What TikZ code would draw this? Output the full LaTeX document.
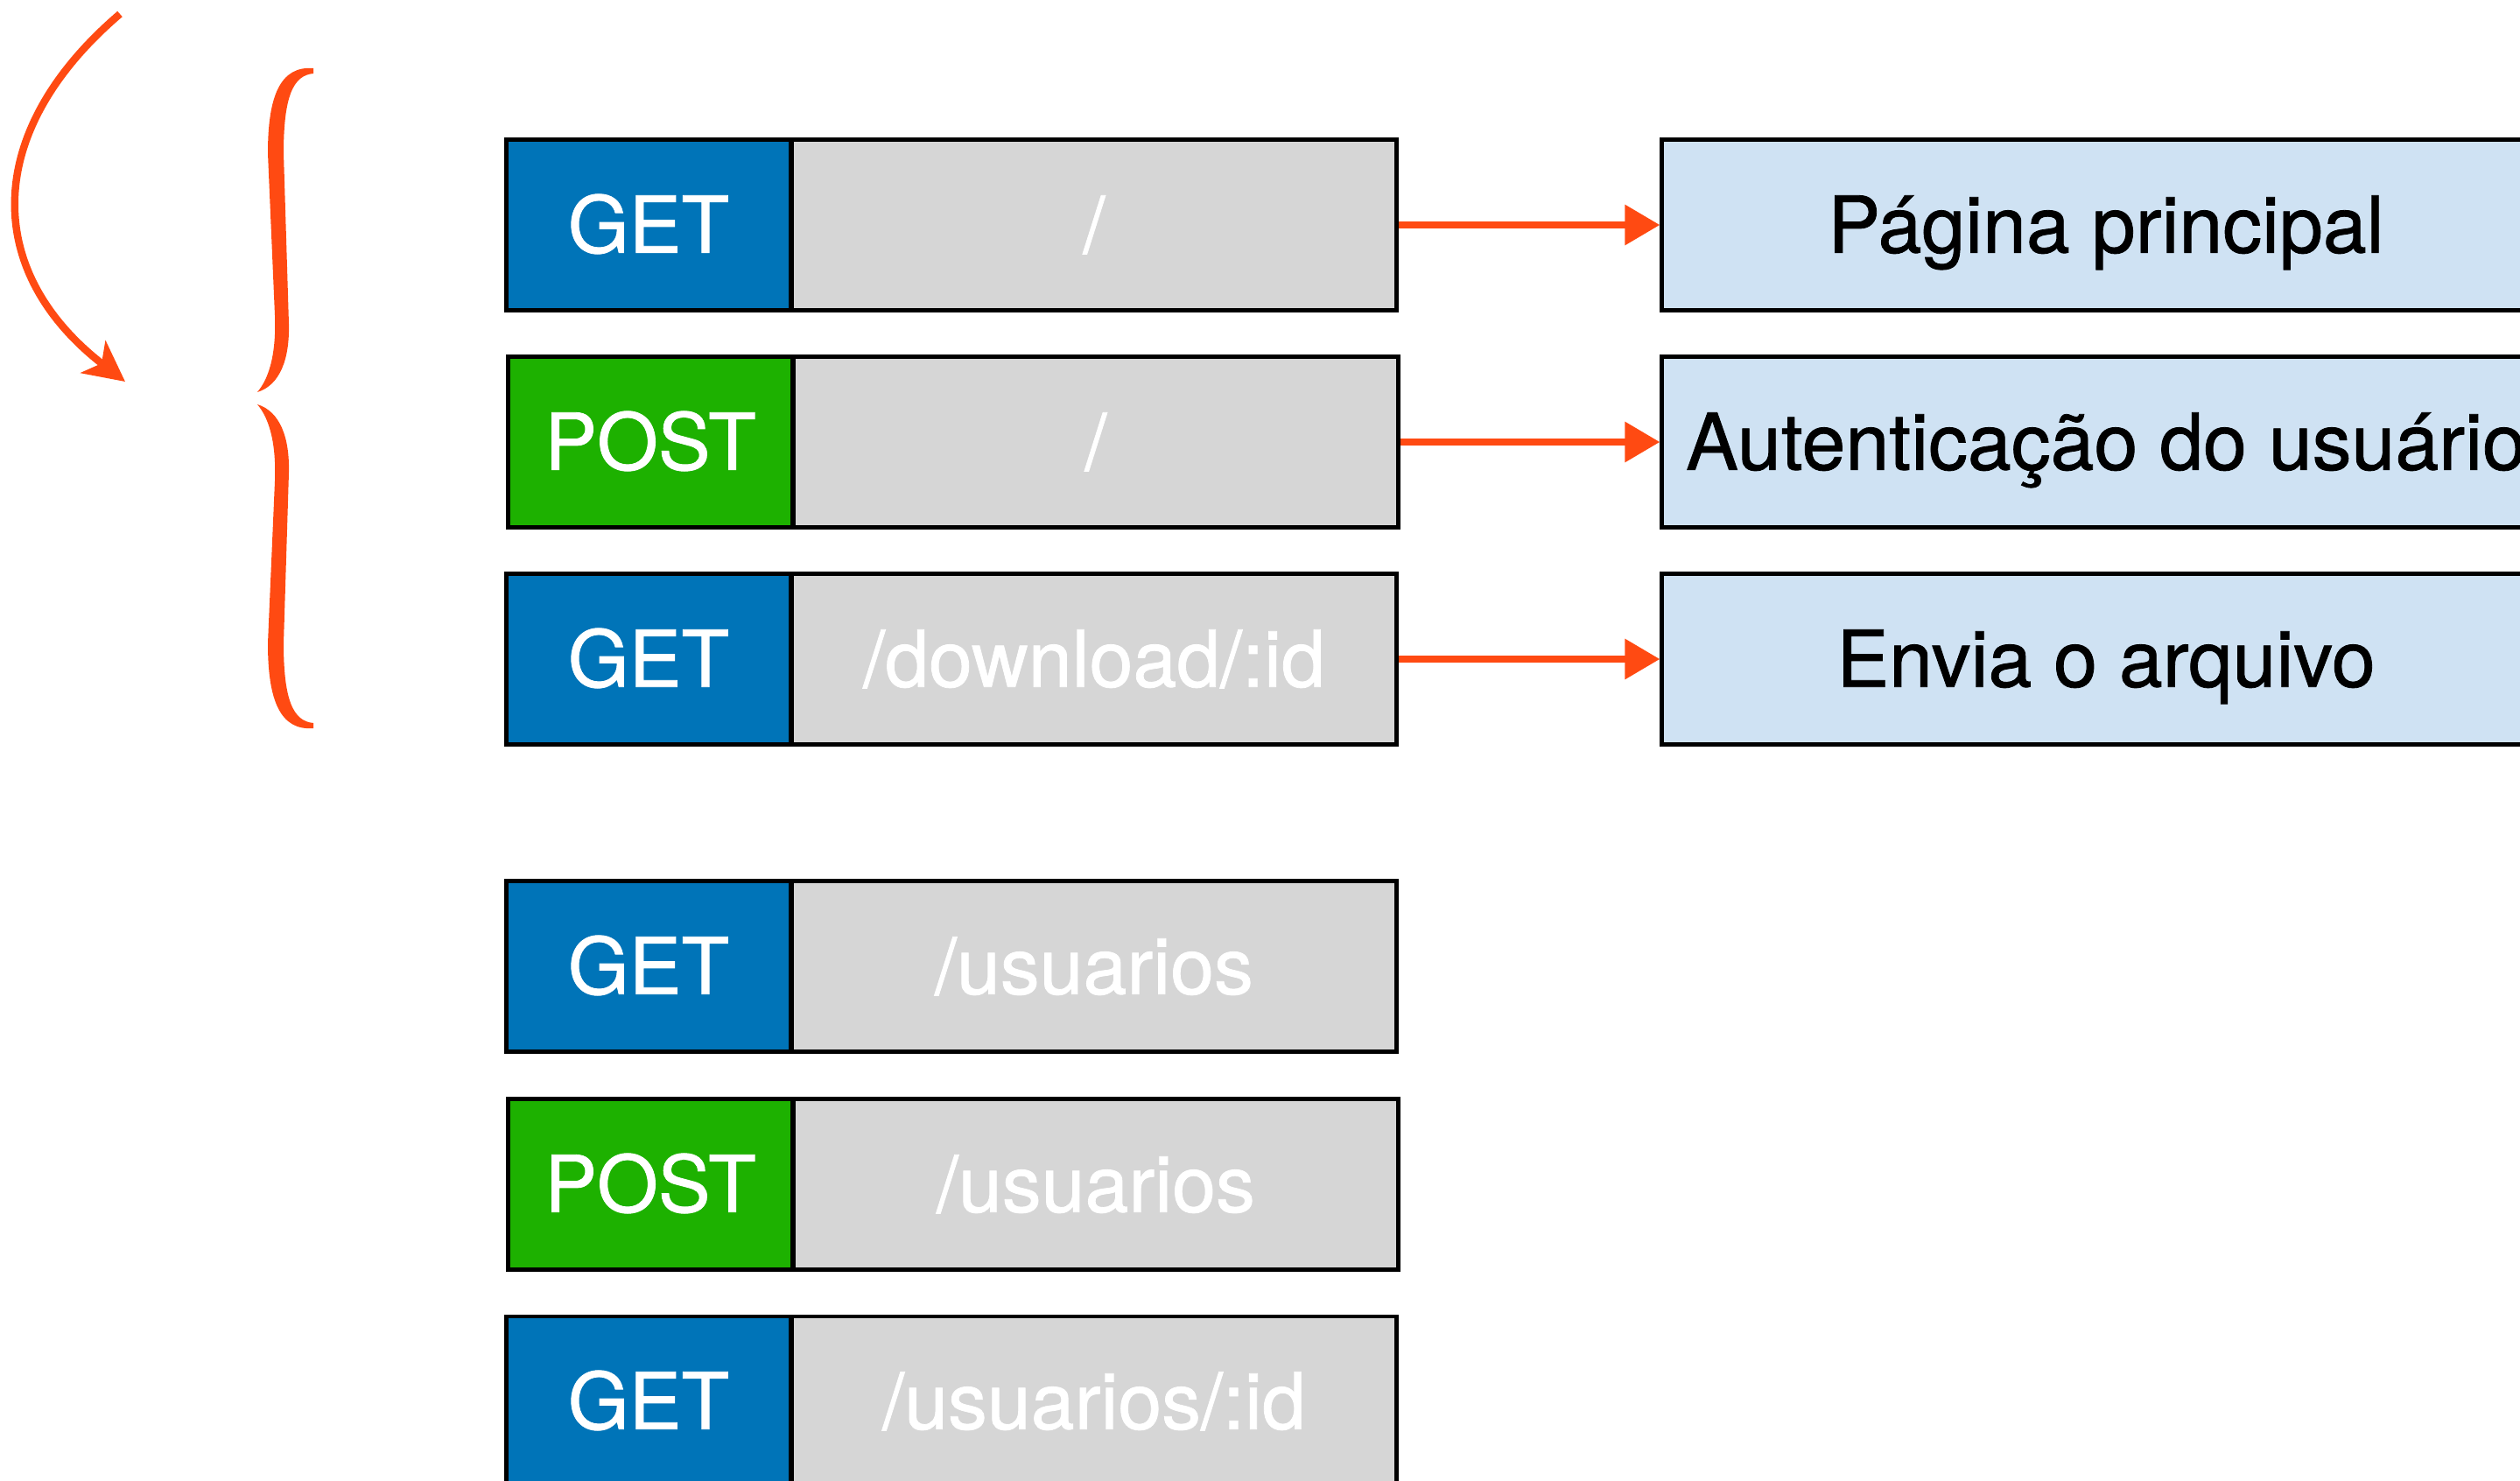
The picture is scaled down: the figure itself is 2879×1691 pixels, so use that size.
\documentclass[tikz,border=0pt]{standalone}
\usepackage{fontspec}
\setmainfont{TeX Gyre Heros}
\newfontfamily\labelfont{TeX Gyre Heros}[FakeBold=0.9]
\usetikzlibrary{arrows.meta}
\definecolor{getblue}{RGB}{0,116,184}
\definecolor{postgreen}{RGB}{29,177,0}
\definecolor{pathgray}{RGB}{214,214,214}
\definecolor{resblue}{RGB}{207,226,243}
\definecolor{accent}{RGB}{255,74,18}
\begin{document}
\begin{tikzpicture}[x=0.01cm,y=-0.01cm,
  box/.style={draw=black,line width=1.4pt,inner sep=0pt,minimum height=1.94cm,
    text height=18pt,text depth=0pt,font=\labelfont\fontsize{25.5}{30}\selectfont},
  getbox/.style={box,fill=getblue,text=white,minimum width=3.25cm},
  postbox/.style={box,fill=postgreen,text=white,minimum width=3.25cm},
  pathbox/.style={box,fill=pathgray,text=white,minimum width=6.91cm},
  resbox/.style={box,fill=resblue,text=black,minimum width=10.14cm},
  link/.style={draw=accent,line width=2pt,-{Triangle[length=0.4cm,width=0.45cm]}},
  curvearrow/.style={draw=accent,line width=2.4pt,-{Stealth[length=0.46cm,width=0.46cm,inset=0.12cm]}},
]
\path[use as bounding box] (0,0) rectangle (2879,1691);
\clip (0,0) rectangle (2879,1691);

% curved arrow
\coordinate (cs) at (137,16);
\coordinate (ce) at (143,436);
\draw[curvearrow] (cs) .. controls (-20,150) and (-20,310) .. (ce);

% brace
\fill[accent] (358,78) .. controls (320,75) and (306,110) .. (306,175) -- (314,360)
  .. controls (316,410) and (305,435) .. (294,448)
  .. controls (320,440) and (331,410) .. (330,370) -- (324,175)
  .. controls (324,110) and (335,86) .. (358,84) -- cycle;
\fill[accent] (358,832) .. controls (320,835) and (306,800) .. (306,735) -- (314,550)
  .. controls (316,500) and (305,475) .. (294,462)
  .. controls (320,470) and (331,500) .. (330,540) -- (324,735)
  .. controls (324,800) and (335,824) .. (358,826) -- cycle;

% row 1
\node[pathbox] (p1) at (1250,257) {/};
\node[getbox] (m1) at (741,257) {GET};
\node[resbox] (r1) at (2406,257) {Página principal};
\draw[link] (p1) -- (r1);

% row 2
\node[pathbox] (p2) at (1252,505) {/};
\node[postbox] (m2) at (743,505) {POST};
\node[resbox] (r2) at (2406,505) {Autenticação do usuário};
\draw[link] (p2) -- (r2);

% row 3
\node[pathbox] (p3) at (1250,753) {/download/:id};
\node[getbox] (m3) at (741,753) {GET};
\node[resbox] (r3) at (2406,753) {Envia o arquivo};
\draw[link] (p3) -- (r3);

% row 4
\node[pathbox] (p4) at (1250,1104) {/usuarios};
\node[getbox] (m4) at (741,1104) {GET};

% row 5
\node[pathbox] (p5) at (1252,1353) {/usuarios};
\node[postbox] (m5) at (743,1353) {POST};

% row 6
\node[pathbox] (p6) at (1250,1601) {/usuarios/:id};
\node[getbox] (m6) at (741,1601) {GET};
\end{tikzpicture}
\end{document}
